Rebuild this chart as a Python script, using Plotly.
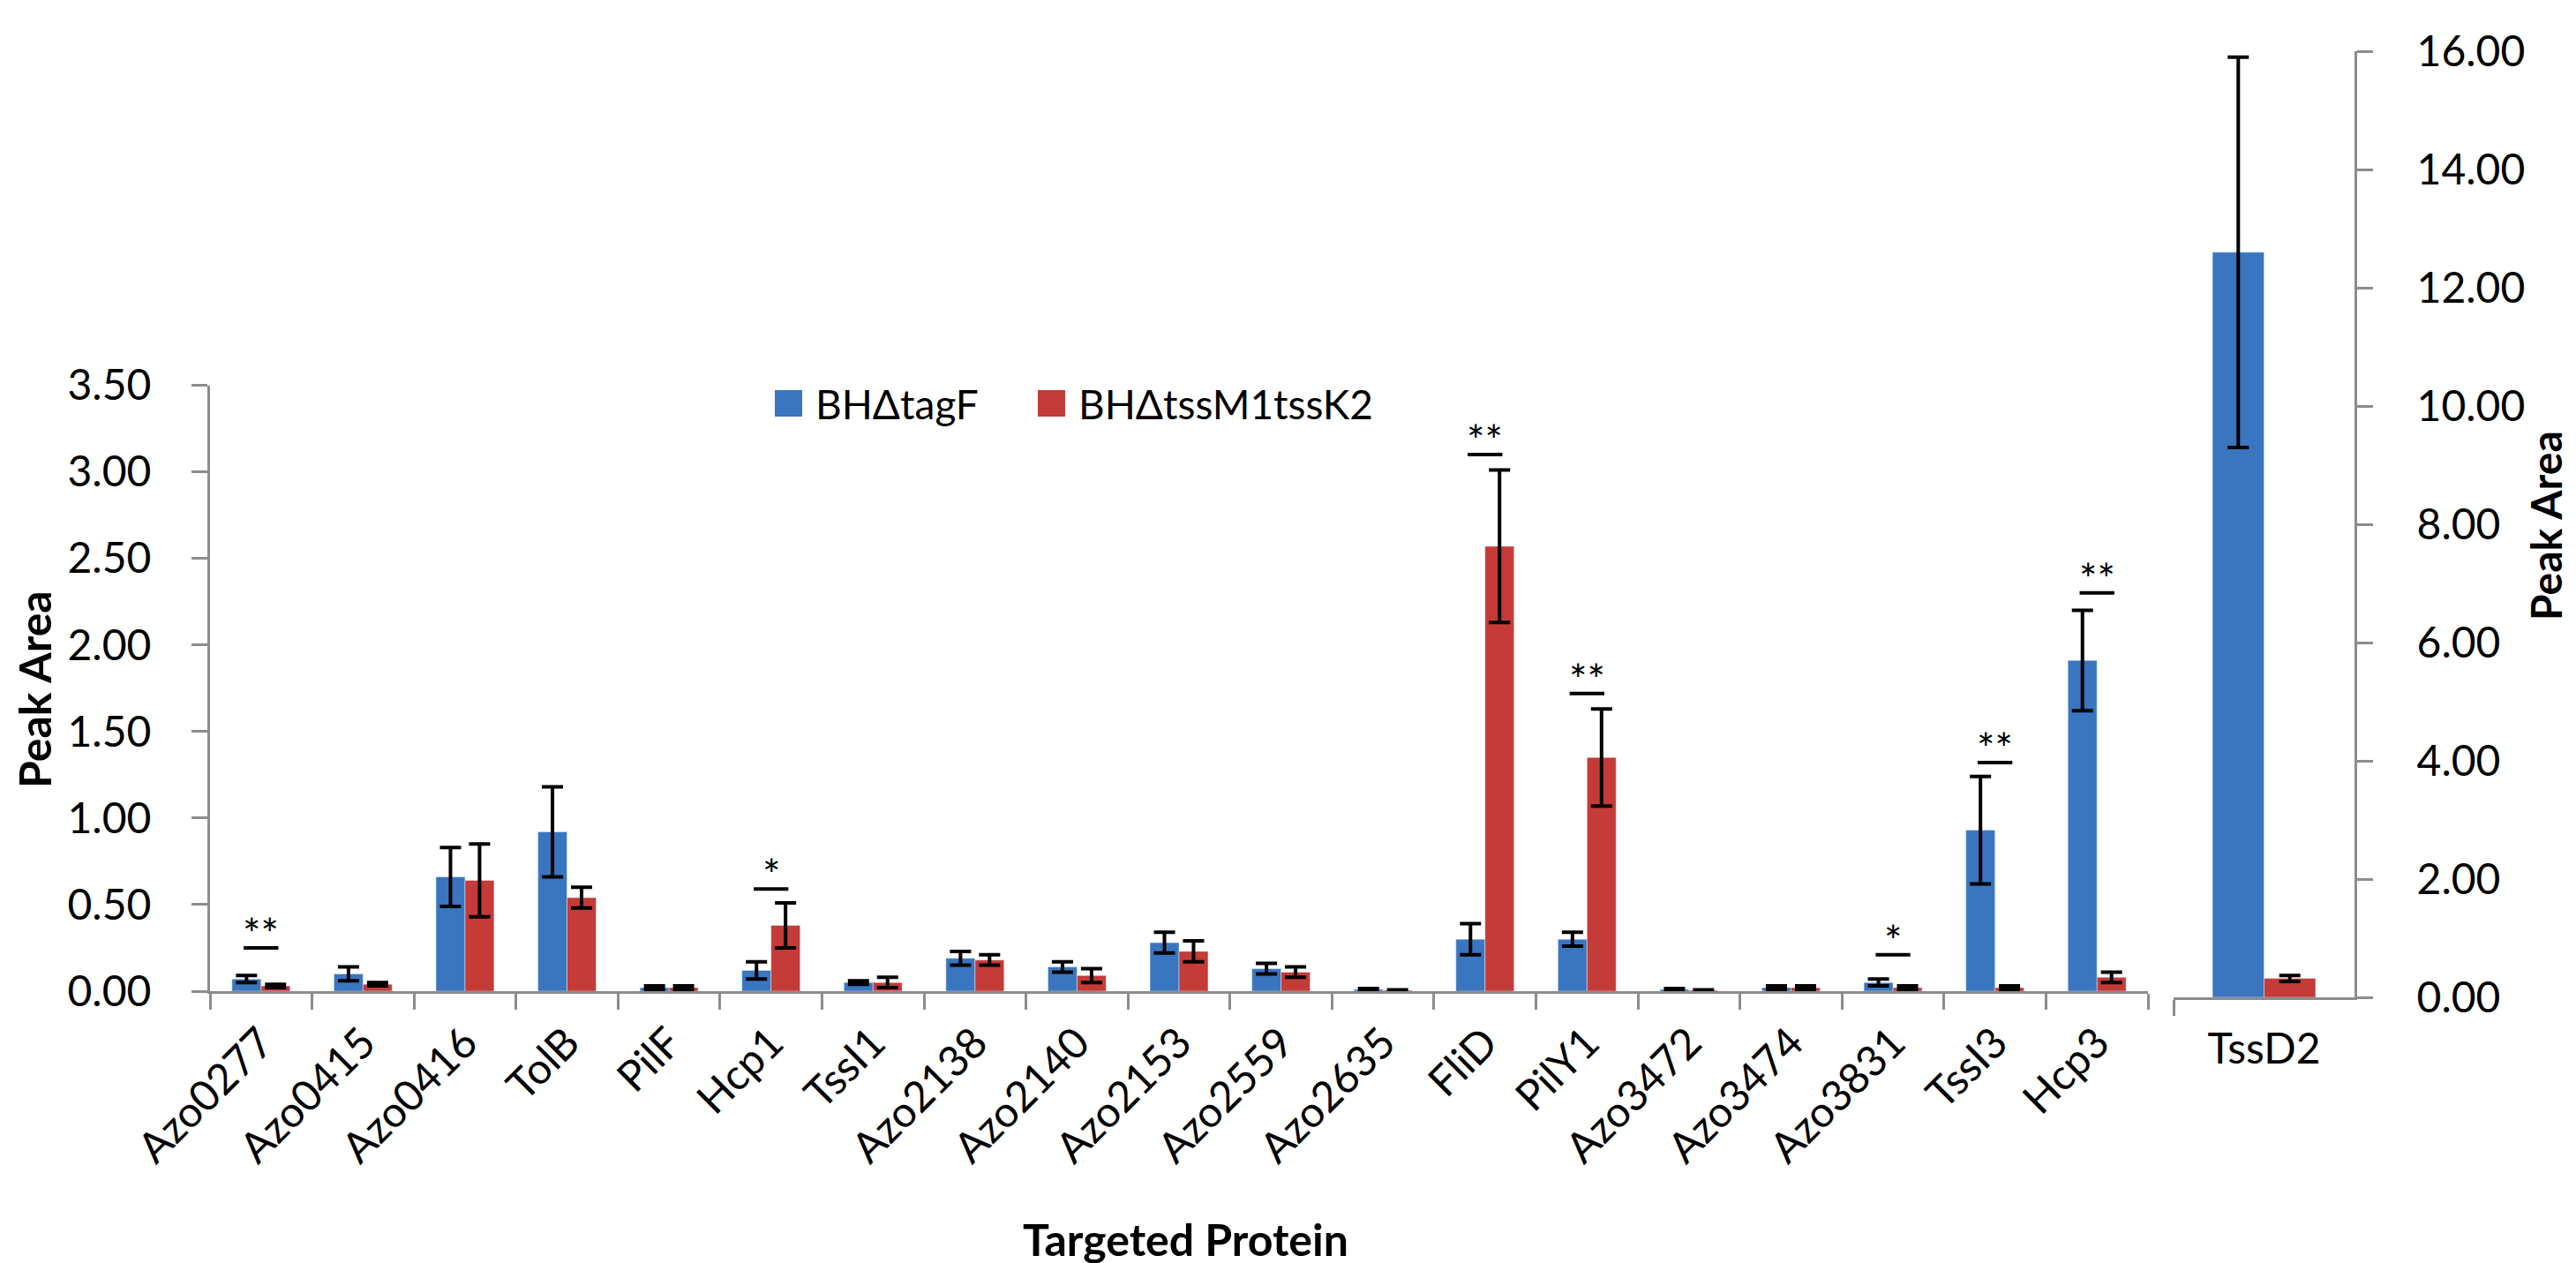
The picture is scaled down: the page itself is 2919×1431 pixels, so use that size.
import plotly.graph_objects as go

categories = ["Azo0277", "Azo0415", "Azo0416", "TolB", "PilF", "Hcp1", "TssI1",
              "Azo2138", "Azo2140", "Azo2153", "Azo2559", "Azo2635", "FliD", "PilY1",
              "Azo3472", "Azo3474", "Azo3831", "TssI3", "Hcp3"]
tagF = [0.07, 0.10, 0.66, 0.92, 0.02, 0.12, 0.05, 0.19, 0.14, 0.28, 0.13, 0.01,
        0.30, 0.30, 0.01, 0.02, 0.05, 0.93, 1.91]
tagF_err = [0.02, 0.04, 0.17, 0.26, 0.01, 0.05, 0.01, 0.04, 0.03, 0.06, 0.03, 0.005,
            0.09, 0.04, 0.005, 0.01, 0.02, 0.31, 0.29]
tss = [0.03, 0.04, 0.64, 0.54, 0.02, 0.38, 0.05, 0.18, 0.09, 0.23, 0.11, 0.005,
       2.57, 1.35, 0.005, 0.02, 0.02, 0.02, 0.08]
tss_err = [0.01, 0.01, 0.21, 0.06, 0.01, 0.13, 0.03, 0.03, 0.04, 0.06, 0.03, 0.003,
           0.44, 0.28, 0.003, 0.01, 0.01, 0.01, 0.03]

right_category = ["TssD2"]
right_tagF = [12.6]
right_tagF_err = [3.3]
right_tss = [0.32]
right_tss_err = [0.05]

series_names = ["BH\u0394tagF", "BH\u0394tssM1tssK2"]

sig_labels = {"Azo0277": ("**", 0.25), "Hcp1": ("*", 0.59), "FliD": ("**", 3.10),
              "PilY1": ("**", 1.72), "Azo3831": ("*", 0.21), "TssI3": ("**", 1.32),
              "Hcp3": ("**", 2.30)}
right_sig = ("**", 16.2)

BLUE = "#3A75C0"
RED = "#C43B37"
FONT = "Lato"
GRAY = "#8C8C8C"
W, H = 2919, 1431
TICK_SIZE = 48
TITLE_SIZE = 50

err_style = dict(type="data", visible=True, color="black", thickness=4, width=12)

fig = go.Figure()
fig.add_trace(go.Bar(x=categories, y=tagF, name=series_names[0], marker_color=BLUE,
                     error_y=dict(array=tagF_err, **err_style), xaxis="x", yaxis="y",
                     showlegend=False))
fig.add_trace(go.Bar(x=categories, y=tss, name=series_names[1], marker_color=RED,
                     error_y=dict(array=tss_err, **err_style), xaxis="x", yaxis="y",
                     showlegend=False))
fig.add_trace(go.Bar(x=right_category, y=right_tagF, name=series_names[0], marker_color=BLUE,
                     error_y=dict(array=right_tagF_err, **err_style), xaxis="x2", yaxis="y2",
                     showlegend=False))
fig.add_trace(go.Bar(x=right_category, y=right_tss, name=series_names[1], marker_color=RED,
                     error_y=dict(array=right_tss_err, **err_style), xaxis="x2", yaxis="y2",
                     showlegend=False))

shapes = []
annotations = []
for cat, (lab, yv) in sig_labels.items():
    i = categories.index(cat)
    shapes.append(dict(type="line", xref="x", yref="y", x0=i - 0.17, x1=i + 0.17,
                       y0=yv, y1=yv, line=dict(color="black", width=4)))
    annotations.append(dict(x=i, y=yv, xref="x", yref="y", text=lab, showarrow=False,
                            xanchor="center", yanchor="bottom", yshift=-14,
                            font=dict(family=FONT, size=48, color="black")))
shapes.append(dict(type="line", xref="x2", yref="y2", x0=-0.17, x1=0.17,
                   y0=right_sig[1], y1=right_sig[1], line=dict(color="black", width=4)))
annotations.append(dict(x=0, y=right_sig[1], xref="x2", yref="y2", text=right_sig[0],
                        showarrow=False, xanchor="center", yanchor="bottom", yshift=-14,
                        font=dict(family=FONT, size=48, color="black")))

# legend (drawn manually so the colour keys can be full size)
legend_items = [(870, BLUE, series_names[0]), (1168, RED, series_names[1])]
for lx, col, name in legend_items:
    shapes.append(dict(type="rect", xref="paper", yref="paper",
                       x0=lx / W, x1=(lx + 31) / W, y0=1 - 464 / H, y1=1 - 434 / H,
                       fillcolor=col, line=dict(width=0)))
    annotations.append(dict(x=(lx + 44) / W, y=1 - 449 / H, xref="paper", yref="paper",
                            text=name, showarrow=False, xanchor="left", yanchor="middle",
                            font=dict(family=FONT, size=46, color="black")))

annotations.append(dict(x=1335 / W, y=1 - 1396 / H, xref="paper", yref="paper",
                        text="<b>Targeted Protein</b>", showarrow=False,
                        xanchor="center", yanchor="middle",
                        font=dict(family=FONT, size=TITLE_SIZE, color="black")))
annotations.append(dict(x=31 / W, y=1 - 773 / H, xref="paper", yref="paper",
                        text="<b>Peak Area</b>", showarrow=False, textangle=-90,
                        xanchor="center", yanchor="middle",
                        font=dict(family=FONT, size=TITLE_SIZE, color="black")))
annotations.append(dict(x=2876 / W, y=1 - 588 / H, xref="paper", yref="paper",
                        text="<b>Peak Area</b>", showarrow=False, textangle=-90,
                        xanchor="center", yanchor="middle",
                        font=dict(family=FONT, size=48, color="black")))

axis_common = dict(showline=True, linecolor=GRAY, linewidth=3, ticks="outside",
                   tickcolor=GRAY, tickwidth=3, ticklen=18, showgrid=False, zeroline=False,
                   automargin=False,
                   tickfont=dict(family=FONT, size=TICK_SIZE, color="black"))

fig.update_layout(
    width=W, height=H, autosize=False,
    margin=dict(l=0, r=0, t=0, b=0, pad=0),
    paper_bgcolor="white", plot_bgcolor="white",
    barmode="group", bargap=0.43, bargroupgap=0,
    font=dict(family=FONT, size=TICK_SIZE, color="black"),
    showlegend=False,
    xaxis=dict(domain=[230 / W, 2426 / W], anchor="y", type="category",
               tickson="boundaries", tickangle=-45, ticklabelstandoff=8, **axis_common),
    yaxis=dict(domain=[1 - 1115 / H, 1 - 428.5 / H], anchor="x", range=[0, 3.5],
               tickvals=[0, 0.5, 1, 1.5, 2, 2.5, 3, 3.5], tickformat=".2f",
               ticklabelstandoff=36, **axis_common),
    xaxis2=dict(domain=[2455 / W, 2660 / W], anchor="y2", type="category",
                tickson="boundaries", tickangle=0, ticklabelstandoff=14, **axis_common),
    yaxis2=dict(domain=[1 - 1122 / H, 1 - 50 / H], anchor="x2", side="right", range=[0, 16],
                tickvals=[0, 2, 4, 6, 8, 10, 12, 14, 16], tickformat=".2f",
                ticklabelstandoff=40, **axis_common),
    shapes=shapes, annotations=annotations,
)
for tr in fig.data:
    tr.update(cliponaxis=False)

fig.write_html("out.html")
